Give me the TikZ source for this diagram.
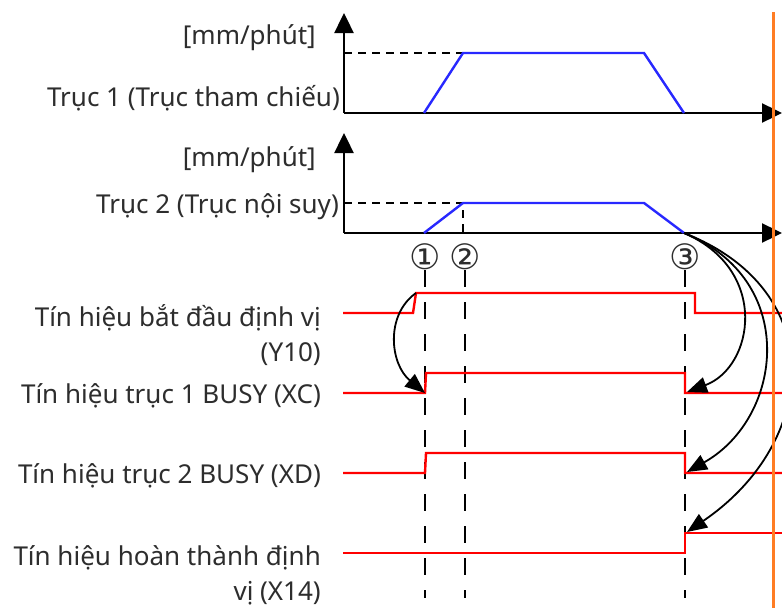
\documentclass[tikz,border=0pt]{standalone}
\usepackage{fontspec}
\setmainfont{Noto Sans}
\newfontfamily\circfont{DejaVu Sans}
\definecolor{SpeedBlue}{RGB}{40,40,255}
\definecolor{SigRed}{RGB}{255,0,0}
\definecolor{Marker}{RGB}{255,125,35}
\definecolor{Txt}{RGB}{45,45,45}
\usetikzlibrary{arrows.meta,positioning,calc}

\begin{document}
\begin{tikzpicture}[x=1pt,y=-1pt,
  lbl/.style={anchor=east,inner sep=0pt,text=Txt,align=right,font=\fontsize{26}{35}\selectfont},
  axisline/.style={line width=2.4pt,-{Triangle[length=20pt,width=19pt]}},
  speed/.style={SpeedBlue,line width=2.4pt},
  sig/.style={SigRed,line width=2.4pt},
  level/.style={line width=1.8pt,dash pattern=on 8pt off 6pt},
  guide/.style={line width=1.8pt,dash pattern=on 17pt off 15pt},
  cause/.style={line width=1.8pt,-{Triangle[length=20pt,width=16pt]}}]
  \useasboundingbox (0,0) rectangle (782,608);
  \fill[white] (0,0) rectangle (782,608);

  \draw[axisline] (344,113) -- (344,13);
  \draw[axisline] (344,113) -- (782,113);
  \draw[level] (344,53) -- (463,53);
  \draw[speed] (424,113) -- (463,53) -- (644,53) -- (684,113);
  \node[lbl] (unit1) at (316,38) {[mm/phút]};
  \node[lbl] (axis1) at (340,98) {Trục 1 (Trục tham chiếu)};

  \draw[axisline] (344,233) -- (344,133);
  \draw[axisline] (344,233) -- (782,233);
  \draw[level] (344,203) -- (463,203) -- (463,233);
  \draw[speed] (424,233) -- (463,203) -- (644,203) -- (684,233) coordinate (stop2);
  \node[lbl] (unit2) at (316,160) {[mm/phút]};
  \node[lbl] (axis2) at (339,207) {Trục 2 (Trục nội suy)};

  \foreach \x/\n/\m in {425/p1/①,465/p2/②,685/p3/③} {
    \node[inner sep=0pt,text=Txt,font=\circfont\fontsize{35}{35}\selectfont] (\n) at (\x,257) {\m};
    \draw[guide] (\x,270) -- (\x,598);
  }

  \draw[sig] (343,313) -- (413,313) -- (416,293) coordinate (startup) -- (695,293) -- (695,313) -- (782,313);
  \draw[sig] (343,393) -- (425,393) coordinate (xcup) -- (426,373) -- (685,373) -- (685,393) coordinate (xcdown) -- (782,393);
  \draw[sig] (343,473) -- (425,473) -- (426,453) -- (685,453) -- (685,473) coordinate (xddown) -- (782,473);
  \draw[sig] (343,553) -- (685,553) -- (685,533) coordinate (doneup) -- (782,533);

  \node[lbl] (y10) at (321,335) {Tín hiệu bắt đầu định vị\\(Y10)};
  \node[lbl] (xc) at (321,396) {Tín hiệu trục 1 BUSY (XC)};
  \node[lbl] (xd) at (321,476) {Tín hiệu trục 2 BUSY (XD)};
  \node[lbl] (x14) at (321,575) {Tín hiệu hoàn thành định\\vị (X14)};

  \draw[cause] (startup) .. controls (385,315) and (390,364) .. (xcup);
  \draw[cause] (stop2) .. controls (770,270) and (754,367) .. ($(xcdown)+(2,-1)$);
  \draw[cause] (stop2) .. controls (800,280) and (783,418) .. ($(xddown)+(2,-1)$);
  \draw[cause] (stop2) .. controls (830,290) and (819,442) .. ($(doneup)+(2,-1)$);

  \draw[Marker,line width=3pt] (773,12) -- (773,608);
\end{tikzpicture}
\end{document}
